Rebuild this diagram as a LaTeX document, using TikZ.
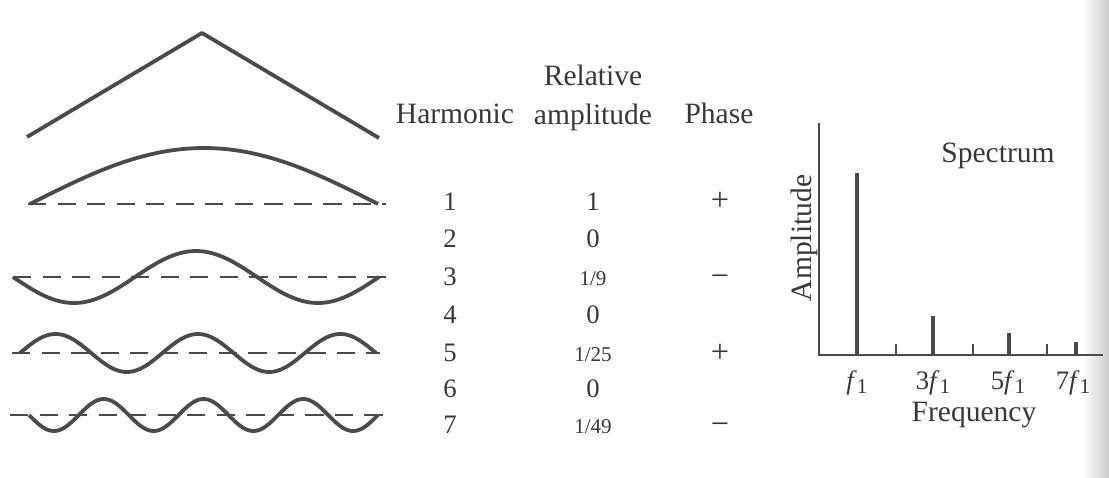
\documentclass[tikz,border=0pt]{standalone}
\usepackage{fontspec}
\setmainfont{Liberation Serif}
\definecolor{trazo}{HTML}{4A4A4A}
\definecolor{texto}{HTML}{383838}
\newcommand{\fsub}{\textit{f}\raisebox{-0.35ex}{\fontsize{15}{18}\selectfont 1}}
\tikzset{
  onda/.style={line width=2.7pt, color=trazo, line join=round},
  referencia/.style={line width=1.6pt, color=trazo, dash pattern=on 13pt off 8pt},
  cab/.style={font=\fontsize{21}{26}\selectfont, text=texto, anchor=base, inner sep=0pt},
  num/.style={font=\fontsize{19}{23}\selectfont, text=texto, anchor=base, inner sep=0pt},
  frac/.style={font=\fontsize{15}{18}\selectfont, text=texto, anchor=base, inner sep=0pt},
  signo/.style={font=\fontsize{23}{26}\selectfont, text=texto, anchor=base, inner sep=0pt},
  barra/.style={line width=2.2pt, color=trazo},
  marca/.style={line width=1.1pt, color=trazo}
}
\begin{document}
\begin{tikzpicture}[x=0.025cm, y=-0.025cm]
    \useasboundingbox (0,0) rectangle (1109,478);

    % sombra del borde de la hoja
    \shade[left color=white, right color=black!20] (1082,0) rectangle (1109,478);

    % onda triangular
    \draw[onda] (27,137) -- (202,33) -- (379,138);

    % armonico 1 (+)
    \draw[referencia] (28,204) -- (386,204);
    \draw[onda] plot[domain=30:378, samples=80, smooth] (\x, {204 - 56*sin((\x-30)/348*180)});

    % armonico 3 (-)
    \draw[referencia] (13,277) -- (387,277);
    \draw[onda] plot[domain=13:379, samples=120, smooth] (\x, {277 + 26*sin((\x-13)/366*540)});

    % armonico 5 (+)
    \draw[referencia] (12,353) -- (380,353);
    \draw[onda] plot[domain=20:376, samples=160, smooth] (\x, {353 - 19*sin((\x-20)/356*900)});

    % armonico 7 (-)
    \draw[referencia] (10,415) -- (384,415);
    \draw[onda] plot[domain=29:378, samples=200, smooth] (\x, {415 + 16*sin((\x-29)/349*1260)});

    % encabezados de la tabla
    \node[cab] (harmonic) at (455,124) {Harmonic};
    \node[cab, anchor=south, align=center, font=\fontsize{21}{28}\selectfont] (amplitude) at (593,131) {Relative\\amplitude};
    \node[cab] (phase) at (719,124) {Phase};

    % filas: armonico, amplitud relativa, fase
    \node[num] (h1) at (450,210) {1};
    \node[num] (a1) at (593,210) {1};
    \node[signo] (p1) at (720,211) {+};
    \node[num] (h2) at (450,247) {2};
    \node[num] (a2) at (593,247) {0};
    \node[num] (h3) at (450,285) {3};
    \node[frac] (a3) at (593,285) {1/9};
    \node[signo] (p3) at (720,286) {−};
    \node[num] (h4) at (450,323) {4};
    \node[num] (a4) at (593,323) {0};
    \node[num] (h5) at (450,361) {5};
    \node[frac] (a5) at (593,361) {1/25};
    \node[signo] (p5) at (720,362) {+};
    \node[num] (h6) at (450,397) {6};
    \node[num] (a6) at (593,397) {0};
    \node[num] (h7) at (450,433) {7};
    \node[frac] (a7) at (593,433) {1/49};
    \node[signo] (p7) at (720,434) {−};

    % espectro: ejes
    \draw[line width=1.5pt, color=trazo] (819,123) -- (819,355) -- (1103,355);

    % lineas del espectro (armonicos impares)
    \draw[barra] (857,355) -- (857,173);
    \draw[barra] (933,355) -- (933,316);
    \draw[barra] (1009,355) -- (1009,333);
    \draw[barra] (1076,355) -- (1076,342);

    % marcas de los armonicos pares
    \draw[marca] (896,355) -- (896,344);
    \draw[marca] (973,355) -- (973,344);
    \draw[marca] (1047,355) -- (1047,344);

    % etiquetas del eje de frecuencia
    \node[num] (f1) at (857,389) {\fsub};
    \node[num] (f3) at (933,389) {3\fsub};
    \node[num] (f5) at (1008,389) {5\fsub};
    \node[num] (f7) at (1073,389) {7\fsub};
    \node[cab] (frecuencia) at (974,421) {Frequency};

    % titulo y eje vertical
    \node[cab] (espectro) at (998,163) {Spectrum};
    \node[cab, rotate=90] (amplitud) at (811,238) {Amplitude};
\end{tikzpicture}
\end{document}
